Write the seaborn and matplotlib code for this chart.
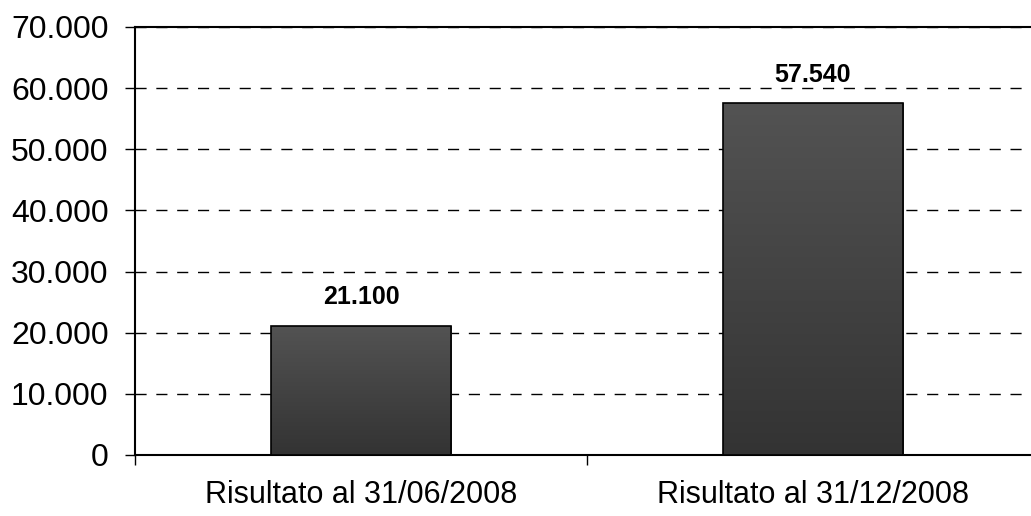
import numpy as np
import pandas as pd
import seaborn as sns
import matplotlib.pyplot as plt
from matplotlib.ticker import FuncFormatter, FixedLocator

# data
categories = ['Risultato al 31/06/2008', 'Risultato al 31/12/2008']
values = [21100, 57540]
value_labels = ['21.100', '57.540']

sns.set_style('white')
plt.rcParams['font.family'] = ['Liberation Sans', 'DejaVu Sans']
plt.rcParams['text.color'] = 'black'
plt.rcParams['xtick.color'] = 'black'
plt.rcParams['ytick.color'] = 'black'

df = pd.DataFrame({'cat': categories, 'val': values})

fig = plt.figure(figsize=(10.31, 5.16), dpi=100)
ax = fig.add_axes([135 / 1031, 61 / 516, 904 / 1031, 428 / 516])

sns.barplot(data=df, x='cat', y='val', ax=ax, color='#444444', width=0.4,
            edgecolor='black', linewidth=1.2, zorder=3)

# vertical grey gradient inside each bar
grad = np.linspace(0, 1, 256).reshape(-1, 1)
for patch in ax.patches:
    x0, y0 = patch.get_x(), patch.get_y()
    w, h = patch.get_width(), patch.get_height()
    im = ax.imshow(grad, cmap=sns.blend_palette(['#333333', '#535353'], as_cmap=True),
                   extent=[x0, x0 + w, y0, y0 + h], origin='lower',
                   aspect='auto', zorder=3.5)
    im.set_clip_path(patch)
    patch.set_facecolor('none')
    patch.set_zorder(4)

# value labels above bars
for i, (v, lab) in enumerate(zip(values, value_labels)):
    ax.annotate(lab, xy=(i, v), xytext=(0, 12), textcoords='offset points',
                ha='center', va='bottom', fontsize=18, fontweight='bold', color='black')

ax.set_xlim(-0.5, 1.5)
ax.set_ylim(0, 70000)
ax.set_yticks(np.arange(0, 70001, 10000))
ax.yaxis.set_major_formatter(FuncFormatter(lambda v, p: f'{int(v):,}'.replace(',', '.')))

# ticks at category boundaries, labels at centers
ax.xaxis.set_major_locator(FixedLocator([-0.5, 0.5, 1.5]))
ax.xaxis.set_minor_locator(FixedLocator([0, 1]))
ax.set_xticklabels(['', '', ''])
ax.set_xticklabels(categories, minor=True)
ax.tick_params(axis='x', which='major', length=7, width=1, direction='out', bottom=True)
ax.tick_params(axis='x', which='minor', length=0, pad=18, labelsize=22)
ax.tick_params(axis='y', length=7, width=1, direction='out', left=True, pad=12, labelsize=23)

ax.set_xlabel('')
ax.set_ylabel('')

ax.yaxis.grid(True, color='black', linestyle=(0, (8, 7)), linewidth=1, zorder=0)
ax.set_axisbelow(True)

for side in ['left', 'bottom', 'top']:
    ax.spines[side].set_visible(True)
    ax.spines[side].set_color('black')
    ax.spines[side].set_linewidth(1.5)
ax.spines['right'].set_visible(False)

fig.savefig('out.png', dpi=100)
